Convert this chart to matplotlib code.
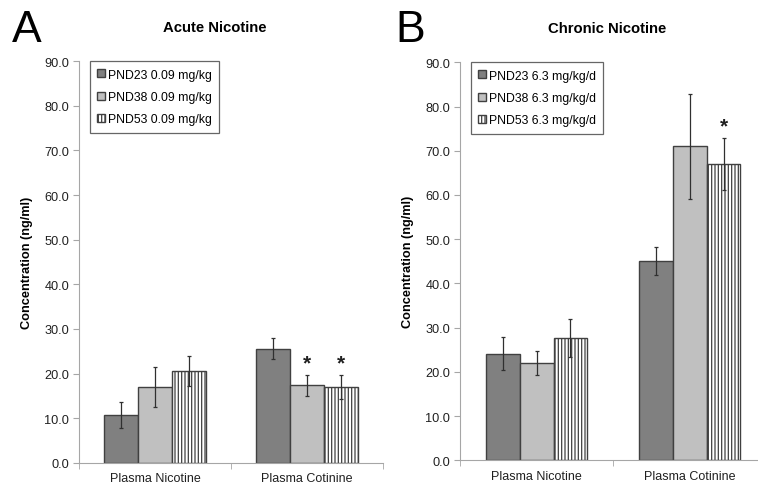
import numpy as np
import matplotlib
matplotlib.use("Agg")
import matplotlib.pyplot as plt

plt.rcParams['font.family'] = ['Liberation Sans', 'DejaVu Sans']
plt.rcParams['hatch.linewidth'] = 0.9
plt.rcParams['hatch.color'] = '#505050'

categories = ["Plasma Nicotine", "Plasma Cotinine"]

acute_labels = ["PND23 0.09 mg/kg", "PND38 0.09 mg/kg", "PND53 0.09 mg/kg"]
acute_means = [[10.6, 25.6], [16.9, 17.4], [20.5, 16.9]]
acute_err = [[2.9, 2.3], [4.5, 2.35], [3.4, 2.7]]
acute_stars = [[False, False], [False, True], [False, True]]

chronic_labels = ["PND23 6.3 mg/kg/d", "PND38 6.3 mg/kg/d", "PND53 6.3 mg/kg/d"]
chronic_means = [[24.1, 45.1], [22.0, 71.0], [27.7, 67.0]]
chronic_err = [[3.7, 3.1], [2.8, 11.9], [4.3, 5.8]]
chronic_stars = [[False, False], [False, False], [False, True]]

fills = ['#808080', '#c0c0c0', 'white']
hatches = [None, None, '|||||']
EDGE = '#404040'
AXIS = '#a6a6a6'


def draw_panel(ax, labels, means, errs, stars, title, title_x):
    x = np.arange(len(categories))
    width = 0.222
    for i in range(3):
        pos = x + (i - 1) * width
        ax.bar(pos, means[i], width, color=fills[i], edgecolor=EDGE,
               linewidth=1.0, hatch=hatches[i], label=labels[i], zorder=2)
        ax.errorbar(pos, means[i], yerr=errs[i], fmt='none', ecolor='#303030',
                    elinewidth=0.9, capsize=1.6, capthick=0.9, zorder=3)
        for j in range(len(categories)):
            if stars[i][j]:
                ax.text(pos[j], means[i][j] + errs[i][j] + 0.6, '*',
                        ha='center', va='bottom', fontsize=15,
                        fontweight='bold', color='#202020')

    ax.set_xlim(-0.5, 1.5)
    ax.set_ylim(0, 90)
    ax.set_yticks(np.arange(0, 91, 10))
    ax.set_yticklabels([f"{v:.1f}" for v in np.arange(0, 91, 10)],
                       fontsize=9.2, color='#202020')
    ax.set_xticks(x)
    ax.set_xticklabels(categories, fontsize=9, color='#202020')
    ax.set_xticks([-0.5, 0.5, 1.5], minor=True)
    ax.tick_params(axis='x', which='major', length=0, pad=7)
    ax.tick_params(axis='x', which='minor', length=4, color=AXIS, direction='out')
    ax.tick_params(axis='y', length=4, color=AXIS, direction='out', pad=3)
    for s in ['top', 'right']:
        ax.spines[s].set_visible(False)
    ax.spines['left'].set_color(AXIS)
    ax.spines['bottom'].set_color(AXIS)
    ax.set_ylabel("Concentration (ng/ml)", fontsize=9.2, fontweight='bold',
                  labelpad=8)
    ax.set_title(title, fontsize=10.7, fontweight='bold', pad=22, x=title_x)

    leg = ax.legend(loc='upper left', bbox_to_anchor=(0.036, 1.0),
                    fontsize=8.8, frameon=True, fancybox=False,
                    handlelength=0.65, handleheight=0.65, handletextpad=0.2,
                    labelspacing=0.85, borderpad=0.6, borderaxespad=0)
    leg.get_frame().set_edgecolor('#404040')
    leg.get_frame().set_linewidth(0.9)


fig = plt.figure(figsize=(7.58, 4.89), dpi=100)
ax1 = fig.add_axes([0.1042, 0.0517, 0.401, 0.821])
ax2 = fig.add_axes([0.6069, 0.0566, 0.4037, 0.814])

draw_panel(ax1, acute_labels, acute_means, acute_err, acute_stars,
           "Acute Nicotine", 0.447)
draw_panel(ax2, chronic_labels, chronic_means, chronic_err, chronic_stars,
           "Chronic Nicotine", 0.48)

fig.text(12 / 758, 1 - 42 / 489, "A", fontsize=32, ha='left', va='baseline')
fig.text(395 / 758, 1 - 42 / 489, "B", fontsize=32, ha='left', va='baseline')

fig.savefig("out.png", dpi=100)
